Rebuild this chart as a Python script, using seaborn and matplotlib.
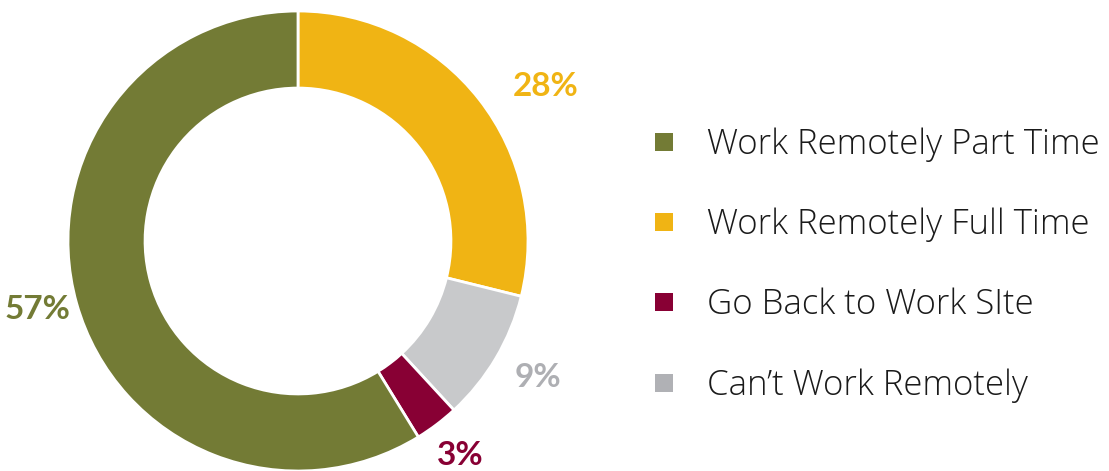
import matplotlib
matplotlib.use("Agg")
import matplotlib.pyplot as plt
import seaborn as sns
import numpy as np
from matplotlib.lines import Line2D

# Datos (orden del donut, en sentido horario desde arriba)
categorias = ["Work Remotely Full Time", "Can\u2019t Work Remotely",
              "Go Back to Work SIte", "Work Remotely Part Time"]
valores = [28, 9, 3, 57]
etiquetas = ["28%", "9%", "3%", "57%"]

# Orden de la leyenda
orden_leyenda = ["Work Remotely Part Time", "Work Remotely Full Time",
                 "Go Back to Work SIte", "Can\u2019t Work Remotely"]

COLORES = {
    "Work Remotely Part Time": "#737b35",
    "Work Remotely Full Time": "#f0b414",
    "Go Back to Work SIte": "#880034",
    "Can\u2019t Work Remotely": "#c8c9cb",
}
COLOR_LABEL = {**COLORES, "Can\u2019t Work Remotely": "#aeafb3"}
LEG_COLORES = {**COLORES, "Can\u2019t Work Remotely": "#b0b1b5"}

sns.set_theme(style="white")
plt.rcParams['font.family'] = ['Open Sans', 'DejaVu Sans']

fig = plt.figure(figsize=(11.09, 4.71), dpi=100)
ax = fig.add_axes([68 / 1109, 0.0, 460 / 1109, 460 / 471])

wedges, _ = ax.pie(valores, colors=[COLORES[c] for c in categorias],
                   startangle=90, counterclock=False, radius=1,
                   wedgeprops=dict(width=0.335, edgecolor="white", linewidth=2))
ax.set_xlim(-1, 1)
ax.set_ylim(-1, 1)
ax.set_aspect("equal")
ax.axis("off")

# etiquetas de porcentaje en el ángulo medio de cada cuña
distancias = [1.27, 1.2, 1.17, 1.17]
desvios = [-6, 1, 0, -1]
for w, txt, cat, d, dv in zip(wedges, etiquetas, categorias, distancias, desvios):
    ang = np.deg2rad((w.theta1 + w.theta2) / 2 + dv)
    ax.text(d * np.cos(ang), d * np.sin(ang), txt, ha="center", va="center",
            fontsize=24, fontweight="bold", color=COLOR_LABEL[cat],
            family=['Lato', 'DejaVu Sans'], clip_on=False)

handles = [Line2D([0], [0], marker="s", linestyle="none", markersize=13,
                  markerfacecolor=LEG_COLORES[c], markeredgewidth=0)
           for c in orden_leyenda]
fig.legend(handles, orden_leyenda, loc="center left",
           bbox_to_anchor=(654 / 1109, 1 - 265 / 471), frameon=False,
           borderpad=0, borderaxespad=0, handlelength=0.55,
           labelspacing=1.32, handletextpad=0.98,
           prop={"weight": "light", "size": 25}, labelcolor="#1a1a1a")

plt.savefig("out.png", dpi=100)
